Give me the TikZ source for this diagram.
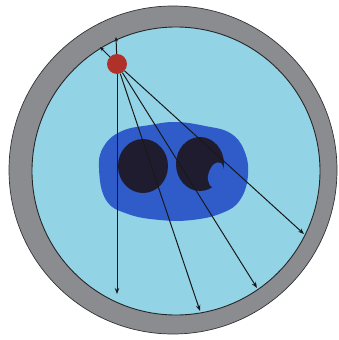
\documentclass[tikz,border=0pt]{standalone}
\usetikzlibrary{arrows.meta}
\definecolor{ringgray}{HTML}{8A8C90}
\definecolor{fluid}{HTML}{93D3E6}
\definecolor{tumour}{HTML}{2F5CC8}
\definecolor{core}{HTML}{1E1C2E}
\definecolor{source}{HTML}{B0302A}
\tikzset{
  ray/.style={draw=black!90, line width=1pt, -{Stealth[length=6pt,width=4.5pt]}},
  shortray/.style={draw=black!90, line width=1pt, -{Stealth[length=4.5pt,width=3.5pt]}},
}
\begin{document}
\begin{tikzpicture}[x=1pt,y=-1pt]
  \useasboundingbox[fill=white] (0,0) rectangle (339,340);
  % outer shell and inner volume
  \fill[ringgray, draw=black!80, line width=0.7pt] (173,170) circle (164);
  \fill[fluid, draw=black!85, line width=0.9pt] (176,171) circle (144);
  % irregular target region
  \fill[tumour] plot[smooth cycle, tension=0.7] coordinates {
    (99,168) (104,146) (122,131) (150,125) (176,122) (205,126) (230,133)
    (244,150) (248,175) (240,200) (222,213) (192,220) (160,220)
    (128,214) (106,200)};
  % dense cores
  \fill[core] (143,166) ellipse (25 and 27);
  \fill[core] (200,164) ellipse (24 and 27);
  \fill[tumour] plot[smooth cycle, tension=0.6] coordinates {
    (209,172) (214,164) (221,163) (224,172) (221,184) (212,187) (208,180)};
  % source point
  \node[circle, fill=source, minimum size=20pt, inner sep=0pt] (src) at (117,64) {};
  \coordinate (u1) at (100,47);
  \coordinate (u2) at (116,37);
  \coordinate (e1) at (117,294);
  \coordinate (e2) at (200,311);
  \coordinate (e3) at (257,288);
  \coordinate (e4) at (304,234);
  \draw[shortray] (src) -- (u1);
  \draw[shortray] (src) -- (u2);
  \draw[ray] (src) -- (e1);
  \draw[ray] (src) -- (e2);
  \draw[ray] (src) -- (e3);
  \draw[ray] (src) -- (e4);
\end{tikzpicture}
\end{document}
